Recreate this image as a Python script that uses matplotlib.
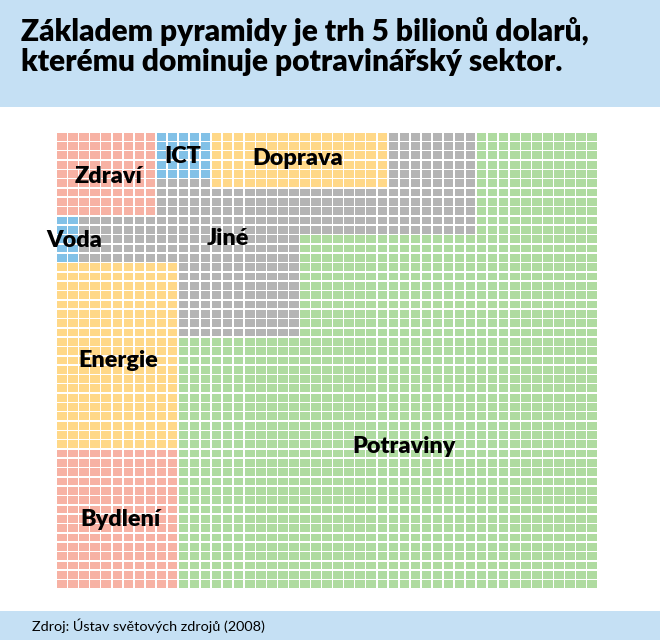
import numpy as np
import matplotlib
matplotlib.use("Agg")
import matplotlib.pyplot as plt
from matplotlib.patches import Rectangle
from matplotlib.collections import PatchCollection

plt.rcParams["font.family"] = ["Lato", "DejaVu Sans"]

# ---- data: 49 x 49 waffle, one cell ~ 2 mld. USD ----
categories = ["Zdraví", "ICT", "Doprava", "Voda", "Jiné", "Energie", "Bydlení", "Potraviny"]
counts = [81, 25, 96, 10, 360, 220, 165, 1444]
colors = ["#F7B2A4", "#82C1E7", "#FFD888", "#82C1E7", "#B4B4B4", "#FFD888", "#F7B2A4", "#AFDBA0"]

# layout of each category in grid cells: (col, row, ncols, nrows), row 0 = top
blocks = {
    "Zdraví": [(0, 0, 9, 9)],
    "ICT": [(9, 0, 5, 5)],
    "Doprava": [(14, 0, 16, 6)],
    "Voda": [(0, 9, 2, 5)],
    "Jiné": [(30, 0, 8, 6), (9, 5, 5, 6), (14, 6, 24, 5), (2, 9, 7, 5),
             (9, 11, 13, 3), (11, 14, 11, 8)],
    "Energie": [(0, 14, 11, 20)],
    "Bydlení": [(0, 34, 11, 15)],
    "Potraviny": [(38, 0, 11, 11), (22, 11, 27, 11), (11, 22, 38, 27)],
}

# label anchor in grid units (col, row)
label_pos = {
    "Zdraví": (4.6, 4.7), "ICT": (11.4, 2.5), "Doprava": (21.8, 2.8),
    "Voda": (1.5, 11.5), "Jiné": (15.5, 11.3), "Energie": (5.5, 24.4),
    "Bydlení": (5.7, 41.5), "Potraviny": (31.4, 33.7),
}

ncols, nrows = 49, 49
grid = np.full((nrows, ncols), -1)
for i, cat in enumerate(categories):
    for c, r, w, h in blocks[cat]:
        grid[r:r + h, c:c + w] = i

fig = plt.figure(figsize=(6.6, 6.4), dpi=100)
fig.patch.set_facecolor("white")

# header and footer bands
fig.patches.append(Rectangle((0, 1 - 107 / 640), 1, 107 / 640, transform=fig.transFigure,
                             facecolor="#C5E0F4", edgecolor="none", zorder=0))
fig.patches.append(Rectangle((0, 0), 1, 29 / 640, transform=fig.transFigure,
                             facecolor="#C5E0F4", edgecolor="none", zorder=0))

fig.text(21 / 660, 1 - 31 / 640, "Základem pyramidy je trh 5 bilionů dolarů,",
         fontsize=21.5, fontweight="heavy", color="black", va="center", ha="left")
fig.text(21 / 660, 1 - 62 / 640, "kterému dominuje potravinářský sektor.",
         fontsize=21.5, fontweight="heavy", color="black", va="center", ha="left")
fig.text(32 / 660, 14 / 640, "Zdroj: Ústav světových zdrojů (2008)",
         fontsize=10.4, color="black", va="center", ha="left")

ax = fig.add_axes([57.3 / 660, 52 / 640, 539.5 / 660, 455.2 / 640])
gap_x, gap_y = 0.14, 0.17
rects, fcs = [], []
for r in range(nrows):
    for c in range(ncols):
        k = grid[r, c]
        if k < 0:
            continue
        rects.append(Rectangle((c, r), 1 - gap_x, 1 - gap_y))
        fcs.append(colors[k])
ax.add_collection(PatchCollection(rects, facecolors=fcs, edgecolors="none"))
ax.set_xlim(0, ncols - gap_x)
ax.set_ylim(nrows - gap_y, 0)
ax.axis("off")

for cat in categories:
    x, y = label_pos[cat]
    ax.text(x, y, cat, fontsize=16.8, fontweight="heavy", color="black",
            ha="center", va="center")

fig.savefig("out.png", dpi=100)
